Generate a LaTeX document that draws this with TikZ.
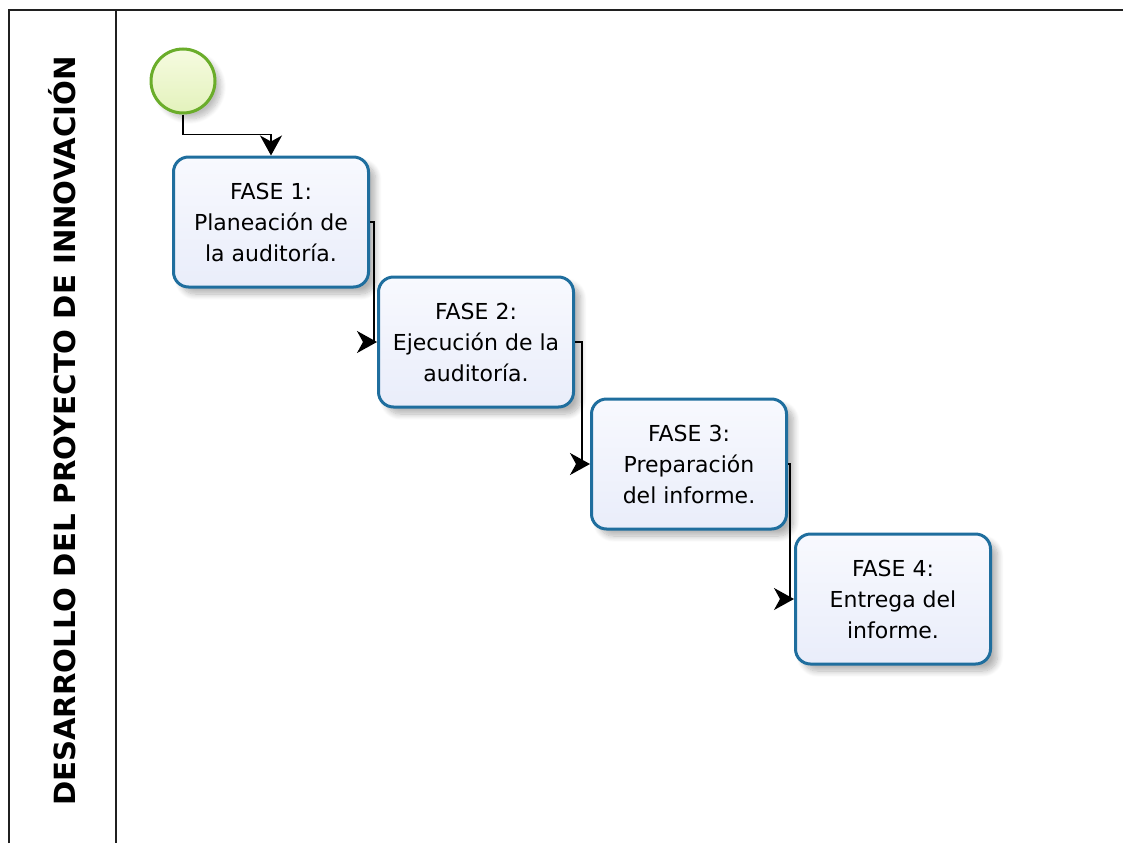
\documentclass[tikz,border=0pt]{standalone}
\usepackage{fontspec}
\setmainfont{DejaVu Sans}
\usetikzlibrary{arrows.meta,shadows,shadows.blur,calc}
\definecolor{taskblue}{HTML}{1F6E9E}
\definecolor{tasktop}{HTML}{F8F9FE}
\definecolor{taskbot}{HTML}{E9EDFA}
\definecolor{startgreen}{HTML}{6AAD2A}
\definecolor{starttop}{HTML}{F6FBE0}
\definecolor{startbot}{HTML}{E3F2BC}
\definecolor{lanegray}{HTML}{202020}
\tikzset{
  task/.style={draw=taskblue, line width=3pt, rounded corners=15pt,
    top color=tasktop, bottom color=taskbot,
    minimum width=195pt, minimum height=130pt, align=center,
    font=\fontsize{22}{31}\selectfont,
    blur shadow={shadow blur steps=10, shadow xshift=7pt, shadow yshift=-7pt, shadow opacity=30, shadow blur radius=6pt}},
  startev/.style={circle, draw=startgreen, line width=3pt,
    top color=starttop, bottom color=startbot,
    minimum size=64pt, inner sep=0pt,
    blur shadow={shadow blur steps=10, shadow xshift=6pt, shadow yshift=-6pt, shadow opacity=25, shadow blur radius=5pt}},
  flow/.style={draw=black, line width=1.5pt, -{Stealth[length=20pt, width=22pt, inset=6pt]}},
  lane/.style={draw=lanegray, line width=2pt}
}
\begin{document}
\begin{tikzpicture}[x=1pt,y=-1pt]
\useasboundingbox (0,0) rectangle (1123,843);
% pool / lane
\draw[lane] (9,843) -- (9,10) -- (1123,10);
\draw[lane] (116,10) -- (116,843);
\node[rotate=90, font=\bfseries\fontsize{29.2}{32}\selectfont] (title) at (62,431) {DESARROLLO DEL PROYECTO DE INNOVACIÓN};
% start event
\node[startev] (start) at (183,81) {};
% tasks
\node[task] (b1) at (271,222) {FASE 1:\\Planeación de\\la auditoría.};
\node[task] (b2) at (476,342) {FASE 2:\\Ejecución de la\\auditoría.};
\node[task] (b3) at (689,464) {FASE 3:\\Preparación\\del informe.};
\node[task] (b4) at (893,599) {FASE 4:\\Entrega del\\informe.};
% flows
\draw[flow] (start.south) -- ++(0,20) -| (b1.north);
\draw[flow] (b1.east) -- ++(4,0) |- (b2.west);
\draw[flow] (b2.east) -- ++(7,0) |- (b3.west);
\draw[flow] (b3.east) -- ++(2,0) |- (b4.west);
\end{tikzpicture}
\end{document}
